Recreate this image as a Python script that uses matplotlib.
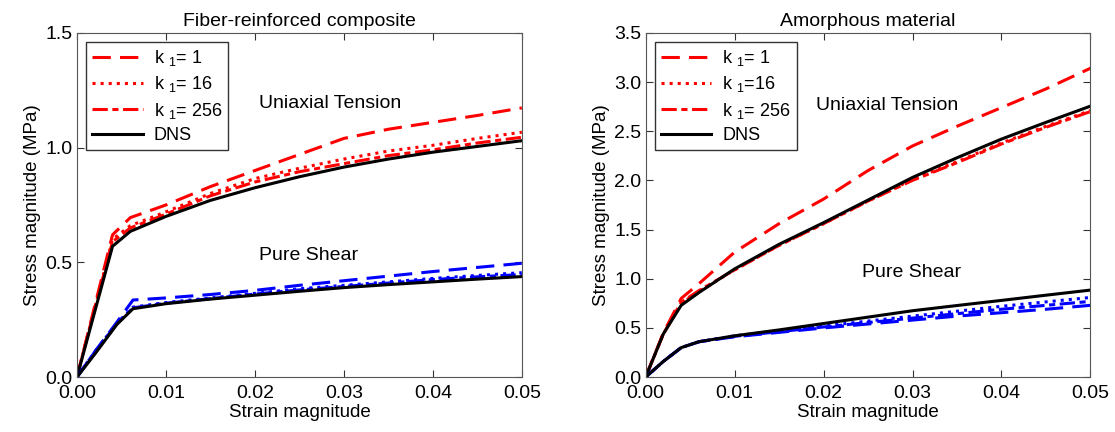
import numpy as np
import matplotlib
matplotlib.use("Agg")
from matplotlib import pyplot as plt
from matplotlib.ticker import FormatStrFormatter

plt.rcParams['font.family'] = ['Liberation Sans', 'DejaVu Sans']
plt.rcParams['mathtext.default'] = 'regular'

# Fiber-reinforced composite: uniaxial tension
fib_ut_x = [0, 0.002, 0.004, 0.006, 0.01, 0.015, 0.02, 0.025, 0.03, 0.035, 0.04, 0.045, 0.05]
fib_ut_k1 = [0, 0.31, 0.62, 0.695, 0.75, 0.83, 0.90, 0.97, 1.04, 1.08, 1.11, 1.14, 1.173]
fib_ut_k16 = [0, 0.30, 0.60, 0.66, 0.72, 0.80, 0.865, 0.91, 0.95, 0.985, 1.01, 1.04, 1.067]
fib_ut_k256 = [0, 0.30, 0.59, 0.65, 0.71, 0.79, 0.85, 0.895, 0.93, 0.965, 0.99, 1.02, 1.045]
fib_ut_dns = [0, 0.285, 0.57, 0.635, 0.70, 0.77, 0.825, 0.873, 0.915, 0.95, 0.98, 1.005, 1.03]

# Fiber-reinforced composite: pure shear
fib_ps_x = [0, 0.002, 0.0045, 0.0063, 0.01, 0.015, 0.02, 0.025, 0.03, 0.035, 0.04, 0.045, 0.05]
fib_ps_k1 = [0, 0.11, 0.24, 0.336, 0.345, 0.36, 0.378, 0.40, 0.42, 0.44, 0.46, 0.478, 0.496]
fib_ps_k16 = [0, 0.11, 0.235, 0.305, 0.325, 0.345, 0.365, 0.385, 0.40, 0.415, 0.43, 0.443, 0.455]
fib_ps_k256 = [0, 0.11, 0.233, 0.302, 0.322, 0.342, 0.362, 0.38, 0.395, 0.41, 0.425, 0.437, 0.447]
fib_ps_dns = [0, 0.10, 0.23, 0.298, 0.32, 0.34, 0.357, 0.374, 0.39, 0.403, 0.415, 0.427, 0.438]

# Amorphous material: uniaxial tension
amo_ut_x = [0, 0.002, 0.004, 0.006, 0.01, 0.015, 0.02, 0.025, 0.03, 0.035, 0.04, 0.045, 0.05]
amo_ut_k1 = [0, 0.45, 0.80, 0.95, 1.27, 1.56, 1.81, 2.10, 2.35, 2.55, 2.74, 2.93, 3.14]
amo_ut_k16 = [0, 0.44, 0.75, 0.87, 1.09, 1.34, 1.56, 1.79, 2.01, 2.19, 2.38, 2.55, 2.71]
amo_ut_k256 = [0, 0.44, 0.76, 0.88, 1.09, 1.34, 1.56, 1.79, 2.00, 2.18, 2.37, 2.54, 2.70]
amo_ut_dns = [0, 0.44, 0.73, 0.86, 1.10, 1.35, 1.57, 1.80, 2.03, 2.23, 2.42, 2.59, 2.755]

# Amorphous material: pure shear
amo_ps_x = [0, 0.002, 0.004, 0.006, 0.01, 0.015, 0.02, 0.025, 0.03, 0.035, 0.04, 0.045, 0.05]
amo_ps_k1 = [0, 0.16, 0.30, 0.36, 0.41, 0.455, 0.50, 0.54, 0.58, 0.62, 0.655, 0.69, 0.73]
amo_ps_k16 = [0, 0.16, 0.30, 0.36, 0.42, 0.47, 0.52, 0.57, 0.62, 0.67, 0.72, 0.765, 0.81]
amo_ps_k256 = [0, 0.16, 0.30, 0.36, 0.415, 0.462, 0.51, 0.555, 0.60, 0.645, 0.69, 0.73, 0.77]
amo_ps_dns = [0, 0.16, 0.30, 0.36, 0.42, 0.48, 0.545, 0.61, 0.675, 0.728, 0.78, 0.833, 0.885]

panels = [
    dict(title="Fiber-reinforced composite", ylim=1.5, yticks=[0, 0.5, 1.0, 1.5],
         ut=(fib_ut_x, fib_ut_k1, fib_ut_k16, fib_ut_k256, fib_ut_dns),
         ps=(fib_ps_x, fib_ps_k1, fib_ps_k16, fib_ps_k256, fib_ps_dns),
         labels=[r'k $_1$= 1', r'k $_1$= 16', r'k $_1$= 256', 'DNS'],
         ut_pos=(0.0285, 1.19), ps_pos=(0.026, 0.53)),
    dict(title="Amorphous material", ylim=3.5, yticks=np.arange(0, 3.51, 0.5),
         ut=(amo_ut_x, amo_ut_k1, amo_ut_k16, amo_ut_k256, amo_ut_dns),
         ps=(amo_ps_x, amo_ps_k1, amo_ps_k16, amo_ps_k256, amo_ps_dns),
         labels=[r'k $_1$= 1', r'k $_1$=16', r'k $_1$= 256', 'DNS'],
         ut_pos=(0.0271, 2.76), ps_pos=(0.0299, 1.06)),
]

styles = [(0, (6, 3)), ':', (0, (5, 1.5, 2, 1.5)), '-']
lw = 2.2

fig = plt.figure(figsize=(11.15, 4.32), dpi=100)
lefts = [0.069, 0.579]

for p, left in zip(panels, lefts):
    ax = fig.add_axes([left, 0.127, 0.399, 0.797])
    handles = []
    for i, (y, st) in enumerate(zip(p['ut'][1:], styles)):
        color = 'black' if i == 3 else 'red'
        h, = ax.plot(p['ut'][0], y, color=color, linestyle=st, lw=lw)
        handles.append(h)
    for i, (y, st) in enumerate(zip(p['ps'][1:], styles)):
        color = 'black' if i == 3 else 'blue'
        ax.plot(p['ps'][0], y, color=color, linestyle=st, lw=lw)

    ax.set_xlim(0, 0.05)
    ax.set_ylim(0, p['ylim'])
    ax.set_xticks([0, 0.01, 0.02, 0.03, 0.04, 0.05])
    ax.set_yticks(p['yticks'])
    ax.xaxis.set_major_formatter(FormatStrFormatter('%.2f'))
    ax.yaxis.set_major_formatter(FormatStrFormatter('%.1f'))
    ax.tick_params(direction='in', top=True, right=True, labelsize=14, length=5, color='#333333')
    ax.tick_params(axis='x', pad=6)
    ax.tick_params(axis='y', pad=3)
    for s in ax.spines.values():
        s.set_color('#555555')
    ax.set_title(p['title'], fontsize=14, pad=5)
    ax.set_xlabel("Strain magnitude", fontsize=13.5, labelpad=1)
    ax.set_ylabel("Stress magnitude (MPa)", fontsize=13.5, labelpad=3)
    ax.text(*p['ut_pos'], "Uniaxial Tension", fontsize=14, ha='center', va='center')
    ax.text(*p['ps_pos'], "Pure Shear", fontsize=14, ha='center', va='center')
    leg = ax.legend(handles, p['labels'], loc='upper left', fontsize=13, fancybox=False,
                    edgecolor='#333333', framealpha=1, handlelength=2.8, borderpad=0.35,
                    labelspacing=0.35, borderaxespad=0.5, handletextpad=0.6)
    leg.get_frame().set_linewidth(1.0)

fig.savefig("out.png", dpi=100)
